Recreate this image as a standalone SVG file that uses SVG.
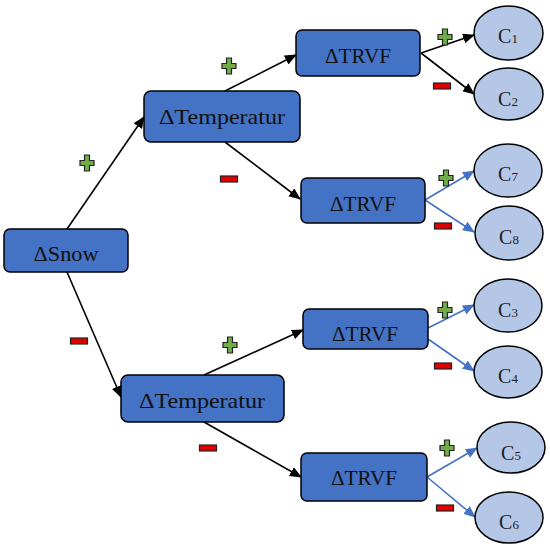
<svg xmlns="http://www.w3.org/2000/svg" xmlns:xlink="http://www.w3.org/1999/xlink" width="550" height="549" viewBox="0 0 550 549">
<style>
.box{fill:#4472C4;stroke:#000;stroke-width:1.5}
.ell{fill:#B4C7E7;stroke:#000;stroke-width:1.5}
.t{font-family:"Liberation Serif","Times New Roman",serif;font-size:21px;fill:#111;text-anchor:middle}
.c{font-family:"Liberation Serif","Times New Roman",serif;font-size:20px;fill:#222;text-anchor:middle}
.sub{font-size:13px}
.k{stroke:#000;stroke-width:1.6;fill:none;marker-end:url(#ak)}
.b{stroke:#4472C4;stroke-width:1.6;fill:none;marker-end:url(#ab)}
</style>
<defs>
<marker id="ak" markerUnits="userSpaceOnUse" markerWidth="12" markerHeight="10" refX="11" refY="5" orient="auto"><path d="M0,0 L12,5 L0,10 Z" fill="#000"/></marker>
<marker id="ab" markerUnits="userSpaceOnUse" markerWidth="12" markerHeight="10" refX="11" refY="5" orient="auto"><path d="M0,0 L12,5 L0,10 Z" fill="#4472C4"/></marker>
<path id="plus" d="M-2.5,-8 H2.5 V-2.5 H7 V2.5 H2.5 V8 H-2.5 V2.5 H-7 V-2.5 H-2.5 Z" fill="#70AD47" stroke="#222" stroke-width="1.2"/>
<rect id="minus" x="-8.5" y="-3" width="17" height="6" fill="#E00000" stroke="#222" stroke-width="1.2"/>
</defs>
<g id="connectors">
<line class="k" x1="67" y1="229" x2="144" y2="117"/>
<line class="k" x1="67" y1="272" x2="121" y2="397"/>
<line class="k" x1="225" y1="91" x2="296" y2="55"/>
<line class="k" x1="225" y1="142" x2="300" y2="199"/>
<line class="k" x1="204" y1="375" x2="303" y2="330"/>
<line class="k" x1="204" y1="422" x2="301" y2="477"/>
<line class="k" x1="421" y1="53" x2="474" y2="35"/>
<line class="k" x1="421" y1="53" x2="474" y2="94"/>
<line class="b" x1="425" y1="200" x2="474" y2="171"/>
<line class="b" x1="425" y1="200" x2="474" y2="232"/>
<line class="b" x1="428" y1="328" x2="474" y2="305"/>
<line class="b" x1="428" y1="339" x2="474" y2="371"/>
<line class="b" x1="427" y1="477" x2="477" y2="448"/>
<line class="b" x1="427" y1="477" x2="475" y2="517"/>
</g>
<g id="signs">
<use xlink:href="#plus" x="87" y="163"/>
<use xlink:href="#minus" x="79" y="341"/>
<use xlink:href="#plus" x="229" y="66"/>
<use xlink:href="#minus" x="229" y="179"/>
<use xlink:href="#plus" x="230" y="345"/>
<use xlink:href="#minus" x="208" y="448"/>
<use xlink:href="#plus" x="445" y="37"/>
<use xlink:href="#minus" x="442" y="86"/>
<use xlink:href="#plus" x="446" y="178"/>
<use xlink:href="#minus" x="443" y="226"/>
<use xlink:href="#plus" x="445" y="310"/>
<use xlink:href="#minus" x="443" y="366"/>
<use xlink:href="#plus" x="447" y="448"/>
<use xlink:href="#minus" x="445" y="508"/>
</g>
<g id="snow"><rect class="box" x="4" y="229" width="124" height="43" rx="6"/><text class="t" x="66" y="261" textLength="65" lengthAdjust="spacingAndGlyphs">ΔSnow</text></g>
<g id="temp1"><rect class="box" x="144" y="91" width="156" height="51" rx="7"/><text class="t" x="222" y="124" textLength="126" lengthAdjust="spacingAndGlyphs">ΔTemperatur</text></g>
<g id="temp2"><rect class="box" x="121" y="375" width="163" height="47" rx="7"/><text class="t" x="202" y="408" textLength="126" lengthAdjust="spacingAndGlyphs">ΔTemperatur</text></g>
<g id="trvf1"><rect class="box" x="296" y="30" width="124" height="46" rx="6"/><text class="t" x="358" y="63" textLength="66" lengthAdjust="spacingAndGlyphs">ΔTRVF</text></g>
<g id="trvf2"><rect class="box" x="301" y="178" width="124" height="45" rx="6"/><text class="t" x="363" y="211" textLength="66" lengthAdjust="spacingAndGlyphs">ΔTRVF</text></g>
<g id="trvf3"><rect class="box" x="303" y="309" width="125" height="40" rx="6"/><text class="t" x="365" y="341" textLength="66" lengthAdjust="spacingAndGlyphs">ΔTRVF</text></g>
<g id="trvf4"><rect class="box" x="301" y="453" width="126" height="48" rx="6"/><text class="t" x="364" y="485" textLength="66" lengthAdjust="spacingAndGlyphs">ΔTRVF</text></g>
<g id="c1"><ellipse class="ell" cx="508.5" cy="33" rx="34.5" ry="27"/><text class="c" x="508" y="43">C<tspan class="sub">1</tspan></text></g>
<g id="c2"><ellipse class="ell" cx="508.5" cy="94" rx="34.5" ry="26"/><text class="c" x="508" y="106">C<tspan class="sub">2</tspan></text></g>
<g id="c7"><ellipse class="ell" cx="508" cy="170.5" rx="34" ry="26.5"/><text class="c" x="508" y="181">C<tspan class="sub">7</tspan></text></g>
<g id="c8"><ellipse class="ell" cx="509" cy="233" rx="34" ry="27"/><text class="c" x="509" y="244">C<tspan class="sub">8</tspan></text></g>
<g id="c3"><ellipse class="ell" cx="508" cy="305.5" rx="34" ry="26.5"/><text class="c" x="508" y="317">C<tspan class="sub">3</tspan></text></g>
<g id="c4"><ellipse class="ell" cx="508" cy="372" rx="34" ry="26"/><text class="c" x="508" y="383">C<tspan class="sub">4</tspan></text></g>
<g id="c5"><ellipse class="ell" cx="511" cy="447.5" rx="34" ry="25.5"/><text class="c" x="511" y="460">C<tspan class="sub">5</tspan></text></g>
<g id="c6"><ellipse class="ell" cx="509" cy="517.5" rx="34" ry="25.5"/><text class="c" x="509" y="529">C<tspan class="sub">6</tspan></text></g>
</svg>
